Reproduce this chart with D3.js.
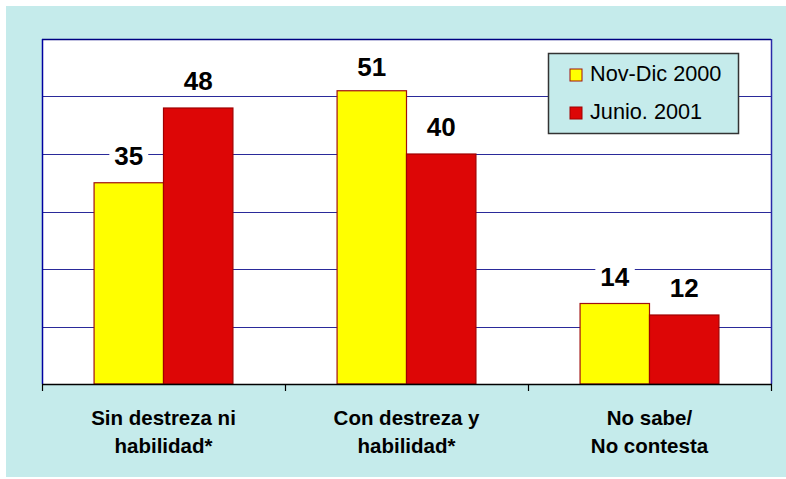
<!DOCTYPE html>
<html>
<head>
<meta charset="utf-8">
<script src="https://cdn.jsdelivr.net/npm/d3@7/dist/d3.min.js"></script>
<style>
html,body{margin:0;padding:0;background:#fff;}
svg{display:block;}
text{font-family:Arial,"Liberation Sans",sans-serif;}
</style>
</head>
<body>
<svg id="chart" width="786" height="479"></svg>
<script>
const categories = [["Sin destreza ni","habilidad*"],["Con destreza y","habilidad*"],["No sabe/","No contesta"]];
const seriesNames = ["Nov-Dic 2000","Junio. 2001"];
const nov2000 = [35, 51, 14];
const jun2001 = [48, 40, 12];
const yTicks = [0, 10, 20, 30, 40, 50, 60];
const seriesValues = [nov2000, jun2001];
const colors = ["#ffff00", "#dd0606"];
const strokes = ["#a01010", "#a00000"];

const svg = d3.select("#chart");
const W = 786, H = 479;
const m = {left: 42, right: 771, top: 39, bottom: 384};

svg.append("rect").attr("x", 6).attr("y", 6).attr("width", W - 6).attr("height", 471).attr("fill", "#c5ebeb");

const x0 = d3.scaleBand().domain(d3.range(categories.length)).range([m.left, m.right]).padding(0);
const x1 = d3.scaleBand().domain(d3.range(seriesNames.length)).range([0, x0.bandwidth()]).paddingInner(0).paddingOuter(0.75);
const y = d3.scaleLinear().domain([0, 60]).range([m.bottom, m.top]);

svg.append("rect").attr("x", m.left).attr("y", m.top).attr("width", m.right - m.left).attr("height", m.bottom - m.top).attr("fill", "#fff");

// gridlines
svg.append("g").selectAll("line").data(yTicks.filter(t => t > 0 && t < 60)).join("line")
  .attr("x1", m.left).attr("x2", m.right)
  .attr("y1", d => Math.round(y(d)) + 0.5).attr("y2", d => Math.round(y(d)) + 0.5)
  .attr("stroke", "#2a2a9a").attr("stroke-width", 1);

// plot borders
svg.append("line").attr("x1", m.left).attr("x2", m.right).attr("y1", m.top + 0.5).attr("y2", m.top + 0.5).attr("stroke", "#000080").attr("stroke-width", 1.5);
svg.append("line").attr("x1", m.left + 0.5).attr("x2", m.left + 0.5).attr("y1", m.top).attr("y2", m.bottom).attr("stroke", "#0000a0").attr("stroke-width", 1.5);
svg.append("line").attr("x1", m.right + 0.5).attr("x2", m.right + 0.5).attr("y1", m.top).attr("y2", m.bottom).attr("stroke", "#2a2aa8").attr("stroke-width", 1.5);

// bars
const groups = svg.append("g").selectAll("g").data(categories).join("g")
  .attr("transform", (d, i) => `translate(${x0(i)},0)`);
seriesValues.forEach((vals, s) => {
  groups.append("rect")
    .attr("x", (d, i) => x1(s))
    .attr("y", (d, i) => y(vals[i]))
    .attr("width", x1.bandwidth())
    .attr("height", (d, i) => y(0) - y(vals[i]))
    .attr("fill", colors[s])
    .attr("stroke", strokes[s]).attr("stroke-width", 1.2);
});

// value labels
seriesValues.forEach((vals, s) => {
  groups.each(function(d, i) {
    const g = d3.select(this);
    const cx = x1(s) + x1.bandwidth() / 2;
    const bg = g.append("rect").attr("fill", "#fff");
    const ty = Math.max(y(vals[i]) - 18, m.top + 37);
    const t = g.append("text").attr("x", cx).attr("y", ty)
      .attr("text-anchor", "middle").attr("font-size", 26).attr("font-weight", "bold").attr("fill", "#000")
      .text(vals[i]);
    const b = t.node().getBBox();
    bg.attr("x", b.x - 5).attr("y", b.y + 2).attr("width", b.width + 10).attr("height", b.height - 2);
  });
});

// x axis
svg.append("line").attr("x1", m.left).attr("x2", m.right + 1).attr("y1", m.bottom + 0.5).attr("y2", m.bottom + 0.5).attr("stroke", "#000").attr("stroke-width", 1.5);
const bounds = d3.range(categories.length + 1).map(i => i < categories.length ? x0(i) : x0(i - 1) + x0.bandwidth());
svg.append("g").selectAll("line").data(bounds).join("line")
  .attr("x1", d => d + 0.5).attr("x2", d => d + 0.5).attr("y1", m.bottom).attr("y2", m.bottom + 7)
  .attr("stroke", "#000").attr("stroke-width", 1.2);

const xl = svg.append("g").selectAll("text").data(categories).join("text")
  .attr("text-anchor", "middle").attr("font-size", 20.5).attr("font-weight", "bold").attr("fill", "#000");
xl.each(function(d, i) {
  const t = d3.select(this);
  d.forEach((line, k) => {
    t.append("tspan").attr("x", x0(i) + x0.bandwidth() / 2).attr("y", 425 + k * 28).text(line);
  });
});

// legend
const lg = svg.append("g");
lg.append("rect").attr("x", 548.5).attr("y", 53.5).attr("width", 190).attr("height", 80)
  .attr("fill", "#c5ebeb").attr("stroke", "#333").attr("stroke-width", 1.5);
seriesNames.forEach((name, s) => {
  const yy = 69 + s * 38;
  lg.append("rect").attr("x", 570).attr("y", yy).attr("width", 12).attr("height", 12)
    .attr("fill", colors[s]).attr("stroke", strokes[s]).attr("stroke-width", 1);
  lg.append("text").attr("x", 590).attr("y", yy + 11.5).attr("font-size", 21.7).attr("fill", "#000").text(name);
});
</script>
</body>
</html>
